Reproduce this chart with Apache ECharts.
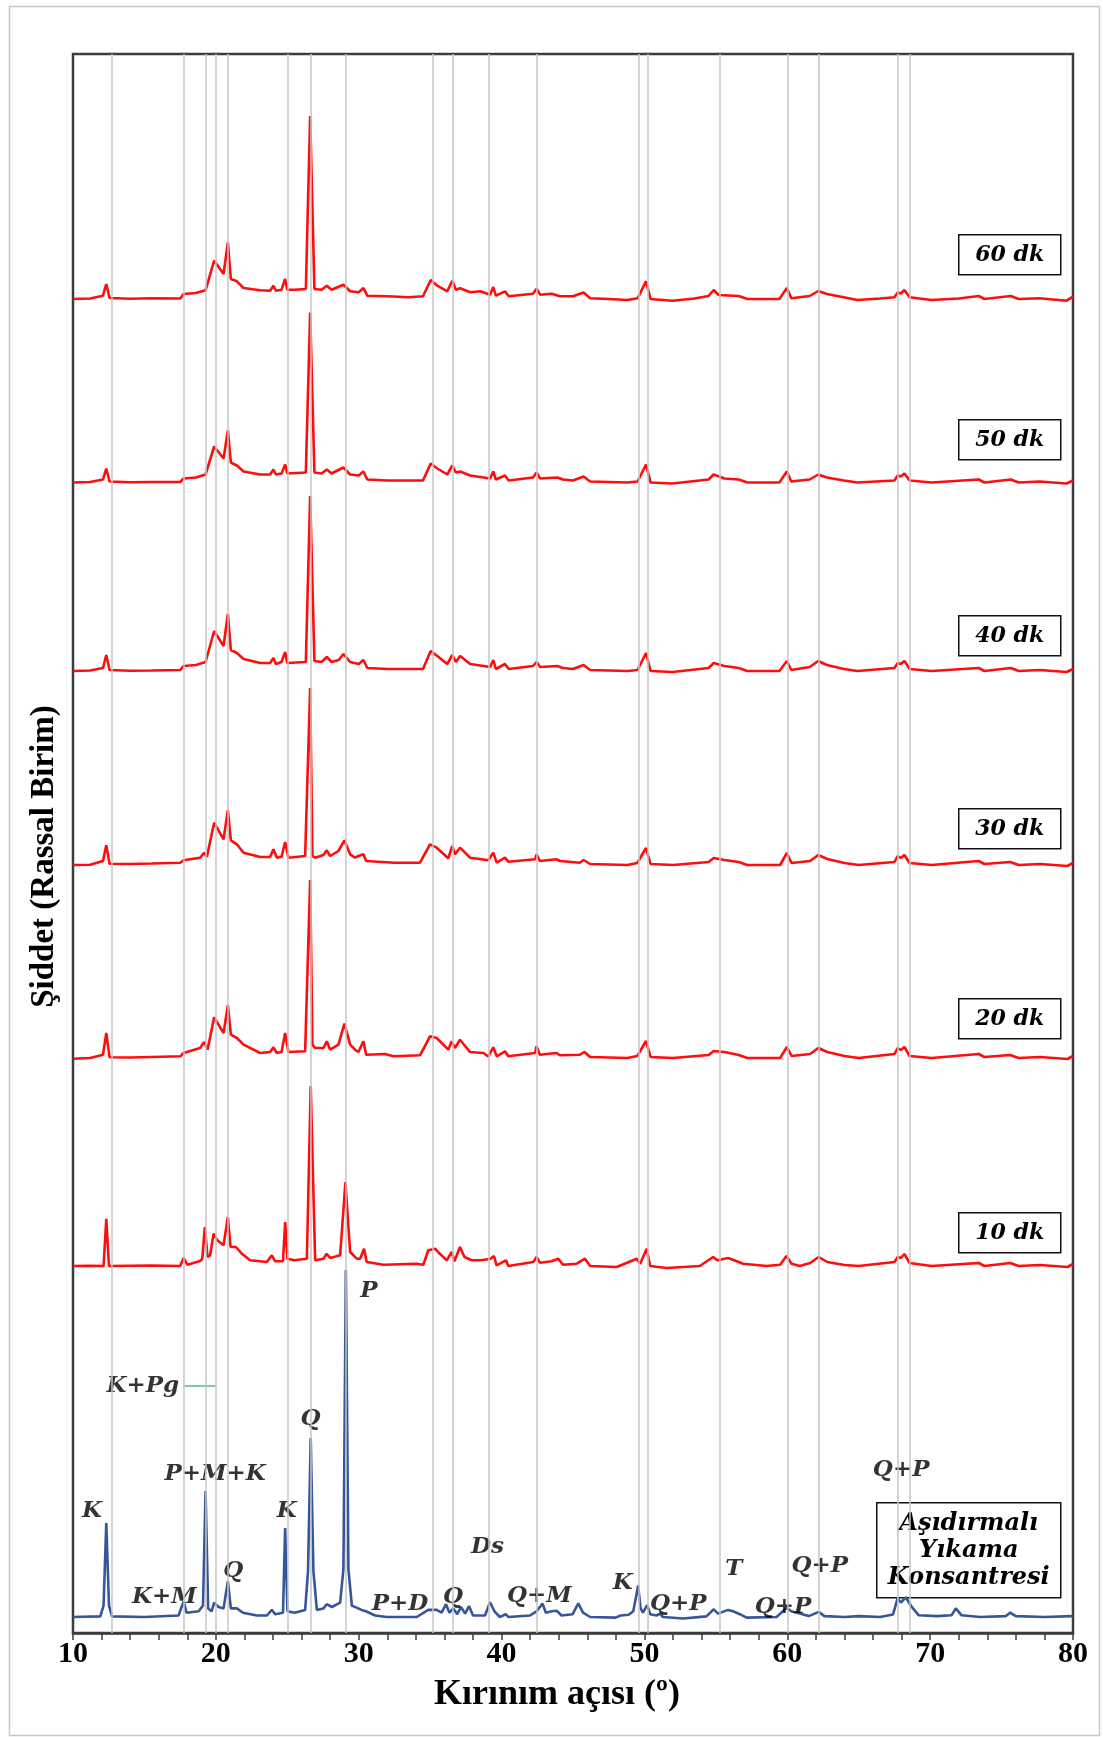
<!DOCTYPE html>
<html>
<head>
<meta charset="utf-8">
<script src="https://cdn.jsdelivr.net/npm/echarts@6.0.0/dist/echarts.min.js"></script>
<style>
    html, body { margin: 0; padding: 0; background: #fff; }
    #xrd_chart { width: 1103px; height: 1737px; }
</style>
</head>
<body>
<div id="xrd_chart"></div>
<script>
    // 2θ / height-above-own-baseline pairs
    var dk60 = [[10,0],[11.2,0.5],[12.10,3.3],[12.33,15],[12.56,1],[14,0.3],[15.5,0.8],[17.51,0.5],[17.74,5],[18.6,6],[19.28,8.7],[19.88,38.3],[20.54,25],[20.84,56.7],[21.05,20],[21.47,17.7],[21.94,11],[23.10,8.7],[23.8,8.3],[24.03,13.3],[24.2,8.3],[24.6,9.3],[24.85,20],[25.0,9.3],[25.5,9.3],[26.3,10],[26.60,183],[26.9,10],[27.4,9.3],[27.77,13.3],[28.1,9.3],[28.93,14.3],[29.4,7.7],[30.0,6.7],[30.33,11],[30.6,3.3],[32,2.7],[33.5,1.7],[34.5,2.7],[35.04,19],[35.5,13.3],[36.2,7.7],[36.55,18.3],[36.8,9.3],[37.1,10.7],[37.8,6.7],[38.5,7.7],[39.2,4.3],[39.42,12],[39.6,3.3],[40.24,7.7],[40.5,2.7],[42.2,5.3],[42.45,10.3],[42.7,4.3],[43.5,5.3],[44.1,2.7],[45.0,2.7],[45.74,6.4],[46.2,0.7],[47.5,0],[48.81,-1],[49.52,0.7],[50.11,17.6],[50.43,0],[51.97,-1.7],[53.5,0.5],[54.49,3],[54.85,9],[55.2,4],[56.6,3],[57.2,0],[59.45,0],[59.97,11],[60.28,0.7],[61.57,3],[62.17,8],[62.77,5],[63.96,1.7],[64.9,-1],[66.5,0.5],[67.5,1.7],[67.73,6.4],[67.95,5.5],[68.2,9],[68.56,1.7],[70.1,-1],[72,0.5],[73.4,3],[73.8,0],[75.64,3],[76.2,0],[77.66,0.7],[79.55,-1.7],[80,2.4]];
    var dk50 = [[10,0],[11.2,0.5],[12.10,3],[12.33,14],[12.56,1],[14,0.3],[15.5,0.5],[17.51,0.5],[17.74,4],[18.6,5],[19.28,8],[19.88,36],[20.54,24],[20.84,52],[21.05,20],[21.47,17],[21.94,11],[23.10,8],[23.8,8],[24.03,13],[24.2,8],[24.6,9],[24.85,18],[25.0,9],[26.3,10],[26.60,170],[26.9,10],[27.4,9],[27.77,13],[28.1,9],[28.93,15],[29.4,8],[30.0,7],[30.33,11],[30.6,3],[32,2],[34.5,2],[35.04,19],[35.5,14],[36.2,8],[36.55,17],[36.8,10],[37.1,11],[37.8,7],[39.2,4],[39.42,11],[39.6,3],[40.24,7],[40.5,2],[42.2,5],[42.45,10],[42.7,4],[43.9,5],[44.3,3],[45.0,2],[45.74,6],[46.2,1],[48.81,0],[49.52,1],[50.11,18],[50.43,0],[51.97,-1],[54.49,3],[54.85,8],[55.6,4],[56.6,3],[57.2,0],[59.45,0],[59.97,11],[60.28,1],[61.57,3],[62.17,8],[62.77,5],[63.96,2],[64.9,0],[67.5,2],[67.73,7],[67.95,6],[68.2,9],[68.56,2],[70.1,0],[73.4,3],[73.8,0],[75.64,3],[76.2,0],[77.66,1],[79.55,-1],[80,2]];
    var dk40 = [[10,0],[11.2,0.5],[12.10,3],[12.33,16],[12.56,1],[14,0.3],[15.5,0.5],[17.51,1],[17.74,5],[18.6,6],[19.28,9],[19.88,40],[20.54,25],[20.84,57],[21.05,21],[21.47,18],[21.94,12],[23.10,8],[23.8,8],[24.03,13],[24.2,7],[24.6,9],[24.85,19],[25.0,8],[26.3,9],[26.60,175],[26.9,10],[27.4,9],[27.77,14],[28.1,9],[28.6,11],[28.93,17],[29.4,9],[30.0,7],[30.33,11],[30.6,3],[32,2],[34.5,2],[35.04,20],[35.5,15],[36.2,7],[36.55,16],[36.8,9],[37.1,15],[37.8,7],[39.2,4],[39.42,11],[39.6,2],[40.24,7],[40.5,2],[42.2,5],[42.45,9],[42.7,4],[43.9,5],[44.3,3],[45.0,2],[45.74,6],[46.2,1],[48.81,0],[49.52,1],[50.11,18],[50.43,0],[51.97,-1],[54.49,3],[54.85,8],[55.6,5],[56.6,3],[57.2,0],[59.45,0],[59.97,10],[60.28,1],[61.57,4],[62.17,10],[62.77,6],[63.96,2],[64.9,0],[67.5,3],[67.73,8],[67.95,7],[68.2,10],[68.56,2],[70.1,0],[73.4,3],[73.8,0],[75.64,3],[76.2,0],[77.66,1],[79.55,-1],[80,2]];
    var dk30 = [[10,0],[11.2,0.3],[12.10,4],[12.33,19.7],[12.56,1.3],[14,1],[15.5,1.5],[17.51,2.3],[17.74,4.7],[18.9,7.3],[19.18,12.3],[19.37,8],[19.88,42.3],[20.54,25.7],[20.84,54.7],[21.05,24.7],[21.47,20.7],[21.94,12.3],[23.10,8],[23.8,8],[24.03,15.7],[24.27,7.3],[24.6,8.3],[24.85,23],[25.08,7.3],[26.25,9],[26.60,177],[26.76,9],[26.95,7.3],[27.53,10],[27.77,14.7],[28.0,9],[28.58,14],[29.0,24.7],[29.40,10.7],[29.75,7.3],[29.98,9],[30.33,10.7],[30.52,4],[32.5,2.3],[34.29,2.3],[34.99,20.7],[35.46,17.3],[36.27,6.7],[36.55,19],[36.74,10.7],[37.09,17.3],[37.79,7.3],[39.07,4.7],[39.42,12.3],[39.66,2.3],[40.24,7.3],[40.47,3.3],[42.34,5.7],[42.45,10.7],[42.68,4],[43.85,5.7],[44.08,4],[45.48,2.3],[45.74,5],[46.2,1],[48.8,0],[49.5,2],[50.11,17],[50.43,1],[52,0],[54.5,3],[54.85,7],[55.6,5],[56.6,3],[57.2,0],[59.5,0],[59.97,12],[60.3,2],[61.6,4],[62.17,10],[62.8,6],[64,2],[65,0],[67.5,3],[67.73,9],[67.95,7],[68.2,10],[68.56,2],[70.1,0],[73.4,4],[73.8,1],[75.6,3],[76.2,0],[77.7,1],[79.6,-1],[80,2]];
    var dk20 = [[10,-0.7],[11.2,0],[12.10,3.3],[12.33,25],[12.56,0.7],[14,0.5],[15.5,1],[17.51,1.7],[17.74,5],[18.9,10],[19.18,16],[19.42,8.3],[19.88,40.7],[20.54,25],[20.84,52.7],[21.05,23.3],[21.47,20],[21.94,13.3],[23.10,5],[23.8,6],[24.03,10.7],[24.27,5],[24.6,6],[24.85,25],[25.08,6],[26.25,6.7],[26.60,178],[26.76,13.3],[26.95,10],[27.53,10],[27.77,16.7],[28.0,8.3],[28.58,13.3],[29.0,34.3],[29.40,13.3],[29.75,8.3],[29.98,6],[30.33,16.7],[30.52,3.3],[31.84,4],[32.43,1.7],[34.29,2.7],[34.99,21.7],[35.46,20],[36.27,8.3],[36.51,16.7],[36.74,10],[37.09,18.3],[37.79,6],[38.72,5],[39.07,1.7],[39.42,10.7],[39.66,1.7],[40.24,6.7],[40.47,1.7],[42.34,5],[42.45,11.7],[42.68,3.3],[43.85,5],[44.08,2.7],[45.48,3.3],[45.8,6],[46.2,1],[48.8,0],[49.5,2],[50.11,17],[50.43,1],[52,0],[54.5,3],[54.85,7],[55.6,6],[56.6,3],[57.2,0],[59.5,0],[59.97,11],[60.3,2],[61.6,4],[62.17,10],[62.8,6],[64,2],[65,0],[67.5,4],[67.73,10],[67.95,8],[68.2,11],[68.56,2],[70.1,0],[73.4,4],[73.8,1],[75.6,3],[76.2,0],[77.7,1],[79.6,-1],[80,2]];
    var dk10 = [[10,0],[11.2,0.3],[12.14,0],[12.33,47.3],[12.52,0],[14,0.3],[15.5,0.5],[17.5,0],[17.74,8],[18.0,1.3],[18.9,5],[19.05,7.3],[19.23,39],[19.42,9],[19.6,10.7],[19.84,32.3],[20.1,25.7],[20.54,20.7],[20.84,49],[21.03,19],[21.4,19],[21.82,12.3],[22.4,5.7],[23.57,4],[23.92,10.7],[24.15,4.7],[24.7,4.7],[24.85,44],[25.01,7.3],[25.5,5.7],[26.37,7.3],[26.64,180],[26.95,5.7],[27.53,7.3],[27.76,12.3],[28.0,8],[28.7,10.7],[29.07,84],[29.40,14],[29.86,7.3],[30.1,7.3],[30.37,17.3],[30.56,4],[31.73,1.3],[34.06,2.3],[34.52,1.3],[34.87,15.7],[35.34,17.3],[35.6,13.3],[36.16,5.7],[36.51,14],[36.7,4.7],[37.09,19],[37.4,9],[37.91,5.7],[38.5,5.7],[39.2,7],[39.47,10],[39.65,0.7],[40.31,5.7],[40.47,0],[42.22,4],[42.45,9],[42.68,3.3],[43.5,4.7],[43.97,7.3],[44.3,1.3],[45.26,2.3],[45.84,7.3],[46.2,0],[48.06,-1],[49.46,7.3],[49.7,2.3],[50.16,17.3],[50.4,0],[51.55,-2],[53.88,0],[54.81,9],[55.1,5.7],[55.86,8],[56.91,2.3],[58.54,0],[59.5,1.3],[59.94,10],[60.3,2.3],[60.87,0],[61.6,3],[62.2,9],[62.8,4],[64,1],[65,0],[67.5,4],[67.73,9],[67.95,8],[68.2,12],[68.56,3],[70.1,0],[73.4,3],[73.8,0],[75.6,3],[76.2,0],[77.7,1],[79.6,-1],[80,2]];
    var konsantre = [[10,0],[11.91,0.6],[12.14,11.4],[12.33,94],[12.52,11.4],[12.73,0.6],[15,0],[17.39,1.5],[17.74,15.6],[17.95,4.3],[18.79,5.7],[19.1,11.4],[19.28,126],[19.46,8.6],[19.7,5.7],[19.88,14.3],[20.19,10],[20.54,8.6],[20.84,35.7],[21.05,8.6],[21.47,8.6],[21.9,4.3],[22.87,1.5],[23.57,1.5],[23.92,7.1],[24.15,2.8],[24.7,4.3],[24.85,89],[25.01,5.7],[25.5,4.3],[26.25,7.1],[26.45,45.6],[26.64,179],[26.83,45.6],[27.07,7.1],[27.53,8.6],[27.76,12.8],[28.12,10],[28.7,14.3],[28.93,48],[29.10,347],[29.28,48],[29.52,11.4],[30.21,7.1],[30.5,5.7],[31.15,1.5],[31.96,0],[34.06,0],[34.87,7.1],[35.46,7.1],[35.8,4.3],[36.11,12.8],[36.35,4.3],[36.62,8.6],[36.9,2.8],[37.16,10],[37.45,3.4],[37.72,10.9],[38.0,1.5],[38.84,1.5],[39.19,14.8],[39.5,5.7],[39.88,0],[40.31,2.8],[40.47,0],[41.99,1.5],[42.45,5.7],[42.87,13.4],[43.1,4.3],[43.5,5.7],[43.85,6.2],[44.2,1.5],[44.98,2.8],[45.37,13.7],[45.7,4.3],[46.2,0],[47.98,-0.6],[48.33,1.5],[48.9,2.3],[49.22,5.7],[49.56,31.4],[49.73,8.6],[49.9,4.3],[50.19,12],[50.4,2.8],[50.85,1.5],[51.08,3.4],[51.3,0],[52.71,-1.5],[54.34,0.6],[54.85,7.7],[55.15,3.4],[55.86,7.1],[56.2,5.7],[56.68,2.8],[57.15,-0.6],[59.25,0],[59.94,9.1],[60.28,5.7],[60.87,3.4],[61.5,0.9],[62.2,5.1],[62.6,0.9],[64,0],[65,0.9],[66.5,0],[67.4,2.6],[67.73,18.8],[67.95,14.5],[68.3,19.7],[68.7,10.3],[69.2,1.7],[70.5,0.9],[71.5,1.7],[71.8,8.6],[72.2,1.7],[73.5,0],[75.3,0.9],[75.6,4.3],[76,0.9],[78,0],[80,0.9]];

    var traceNames = ['Konsantre', '10 dk', '20 dk', '30 dk', '40 dk', '50 dk', '60 dk'];
    var traceData = [konsantre, dk10, dk20, dk30, dk40, dk50, dk60];
    // stacking offset of each pattern (same units as heights)
    var traceOffsets = [16, 367, 575, 768, 962, 1150.5, 1334];

    // reference lines at the identified reflections (2θ)
    var refLines = [12.73, 17.74, 19.28, 19.98, 20.80, 25.0, 26.61, 29.10, 35.16, 36.56, 39.13, 42.47, 49.62, 50.20, 55.24, 60.0, 62.18, 67.73, 68.54];

    // phase labels: text, 2θ, height
    var phaseLabels = [
        ['K', 11.33, 122], ['K+M', 16.40, 36], ['P+M+K', 19.95, 159], ['K+Pg', 14.88, 247],
        ['Q', 21.21, 62], ['K', 24.97, 122], ['Q', 26.62, 214], ['P', 30.72, 342],
        ['P+D', 32.89, 29], ['Q', 36.60, 36], ['Ds', 39.01, 86], ['Q+M', 42.65, 37],
        ['K', 48.49, 50], ['Q+P', 52.37, 29], ['T', 56.25, 64], ['Q+P', 59.7, 26],
        ['Q+P', 62.28, 67], ['Q+P', 67.97, 163]
    ];
    var kpgLeader = [[17.69, 247], [20.0, 247]];

    var chart = echarts.init(document.getElementById('xrd_chart'));

    var series = [{
        name: 'ref',
        type: 'line',
        data: [],
        z: 1,
        silent: true,
        markLine: {
            silent: true,
            symbol: 'none',
            label: { show: false },
            lineStyle: { color: '#c6c6c6', width: 1.5, type: 'solid' },
            data: refLines.map(function (v) { return { xAxis: v }; })
        }
    }];

    traceData.forEach(function (arr, i) {
        series.push({
            name: traceNames[i],
            type: 'line',
            z: 3,
            showSymbol: false,
            lineStyle: { width: 2.6, color: i === 0 ? '#36569a' : '#ff0d0d' },
            data: arr.map(function (p) { return [p[0], p[1] + traceOffsets[i]]; })
        });
    });

    series.push({
        type: 'line',
        z: 3,
        showSymbol: false,
        lineStyle: { width: 1.5, color: '#5cae8f' },
        data: kpgLeader
    });

    series.push({
        type: 'scatter',
        z: 4,
        symbolSize: 1,
        itemStyle: { color: 'rgba(0,0,0,0)' },
        label: {
            show: true,
            position: 'inside',
            formatter: function (p) { return p.data.name; },
            fontFamily: 'DejaVu Serif',
            fontStyle: 'italic',
            fontWeight: 'bold',
            fontSize: 23,
            color: '#000'
        },
        data: phaseLabels.map(function (l) { return { name: l[0], value: [l[1], l[2]] }; })
    });

    // sample boxes on the right
    var boxTops = [1212, 998, 808, 615, 419, 234];
    var boxTexts = ['10 dk', '20 dk', '30 dk', '40 dk', '50 dk', '60 dk'];
    var graphics = [{
        type: 'rect',
        left: 7, top: 4,
        shape: { width: 1090, height: 1729 },
        style: { fill: 'none', stroke: '#c8c8c8', lineWidth: 1.5 },
        z: 0
    }];
    boxTexts.forEach(function (t, i) {
        graphics.push({
            type: 'group',
            left: 958, top: boxTops[i],
            z: 10,
            children: [{
                type: 'rect',
                shape: { width: 102, height: 40 },
                style: { fill: '#fff', stroke: '#111', lineWidth: 1.5 }
            }, {
                type: 'text',
                x: 51, y: 21,
                style: {
                    text: t, align: 'center', verticalAlign: 'middle',
                    font: 'italic bold 22px "DejaVu Serif"', fill: '#000'
                }
            }]
        });
    });
    graphics.push({
        type: 'group',
        left: 876, top: 1502,
        z: 10,
        children: [{
            type: 'rect',
            shape: { width: 184, height: 95 },
            style: { fill: '#fff', stroke: '#111', lineWidth: 1.5 }
        }, {
            type: 'text',
            x: 92, y: 48,
            style: {
                text: 'Aşıdırmalı\nYıkama\nKonsantresi', align: 'center', verticalAlign: 'middle',
                font: 'italic bold 24px "DejaVu Serif"', lineHeight: 27, fill: '#000'
            }
        }]
    });

    var option = {
        animation: false,
        backgroundColor: '#fff',
        grid: {
            left: 73, right: 30, top: 54, bottom: 104,
            show: true,
            borderColor: '#3c3c3c',
            borderWidth: 2.5
        },
        xAxis: {
            type: 'value',
            min: 10, max: 80, interval: 2,
            name: 'Kırınım açısı (º)',
            nameLocation: 'middle',
            nameGap: 44,
            nameTextStyle: {
                fontFamily: 'Liberation Serif', fontWeight: 'bold', fontSize: 36, color: '#000',
                padding: [0, 32, 0, 0]
            },
            axisLine: { lineStyle: { color: '#3c3c3c', width: 2.5 } },
            axisTick: { length: 7, lineStyle: { color: '#3c3c3c', width: 1.5 } },
            axisLabel: {
                margin: 6,
                fontFamily: 'Liberation Serif', fontWeight: 'bold', fontSize: 30, color: '#000',
                formatter: function (v) { return v % 10 === 0 ? v : ''; }
            },
            splitLine: { show: false }
        },
        yAxis: {
            type: 'value',
            min: 0, max: 1579,
            name: 'Şiddet (Rassal Birim)',
            nameLocation: 'middle',
            nameGap: 12,
            nameTextStyle: {
                fontFamily: 'Liberation Serif', fontWeight: 'bold', fontSize: 33, color: '#000',
                padding: [0, 26, 0, 0]
            },
            axisLine: { show: false },
            axisTick: { show: false },
            axisLabel: { show: false },
            splitLine: { show: false }
        },
        graphic: graphics,
        series: series
    };
    chart.setOption(option);
</script>
</body>
</html>
